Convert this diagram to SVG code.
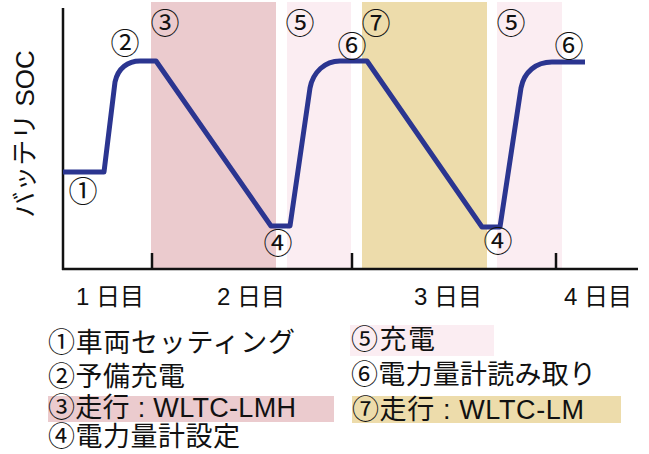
<svg xmlns="http://www.w3.org/2000/svg" width="649" height="454" viewBox="0 0 649 454">
<style>
.t{font-family:"Liberation Sans","Noto Sans CJK JP",sans-serif;fill:#111}
.lg{font-size:27px}
.day{font-size:24px}
.num{font-family:"Noto Sans CJK JP",sans-serif;font-size:29px;fill:#111}
.ax{stroke:#111;stroke-width:2.5;fill:none}
.soc{fill:none;stroke:#2b3590;stroke-width:5;stroke-linejoin:round}
</style>
<rect width="649" height="454" fill="#fff"/>
<g id="bands">
<rect x="151" y="2" width="125" height="267" fill="#ebcbce"/>
<rect x="287" y="2" width="64" height="267" fill="#fbedf2"/>
<rect x="362" y="2" width="125" height="267" fill="#eddcab"/>
<rect x="497" y="2" width="65" height="267" fill="#fbedf2"/>
</g>
<g id="axes">
<line class="ax" x1="63" y1="8" x2="63" y2="270"/>
<line class="ax" x1="62" y1="269" x2="638" y2="269"/>
<line class="ax" x1="152" y1="253" x2="152" y2="269"/>
<line class="ax" x1="352" y1="253" x2="352" y2="269"/>
<line class="ax" x1="556" y1="253" x2="556" y2="269"/>
</g>
<g id="ylabel">
<text class="t" font-size="26" transform="translate(34,134) rotate(-90)" text-anchor="middle">バッテリ SOC</text>
</g>
<g id="connectors">
<path class="soc" d="M63,172 H104 L115,82 C118,68 128,61 140,61 H156 L271,226 H290 L310,88 C313,72 325,61 340,61 H367 L482,227 H500 L521,88 C524,72 536,62 552,62 H585"/>
</g>
<g id="markers" text-anchor="middle">
<text class="num" x="83" y="202">①</text>
<text class="num" x="125" y="54">②</text>
<text class="num" x="165" y="34">③</text>
<text class="num" x="300" y="34">⑤</text>
<text class="num" x="278" y="254">④</text>
<text class="num" x="352" y="57">⑥</text>
<text class="num" x="376" y="34">⑦</text>
<text class="num" x="511" y="34">⑤</text>
<text class="num" x="498" y="252">④</text>
<text class="num" x="569" y="57">⑥</text>
</g>
<g id="days" text-anchor="middle">
<text class="t day" x="110" y="305">1 日目</text>
<text class="t day" x="251" y="305">2 日目</text>
<text class="t day" x="448" y="305">3 日目</text>
<text class="t day" x="598" y="305">4 日目</text>
</g>
<g id="legend">
<rect x="48" y="396" width="286" height="26" fill="#ebcbce"/>
<rect x="350" y="325" width="144" height="31" fill="#fbedf2"/>
<rect x="352" y="396" width="269" height="27" fill="#eddcab"/>
<text class="t lg" x="48" y="352" textLength="247">①車両セッティング</text>
<text class="t lg" x="48" y="386" textLength="137">②予備充電</text>
<text class="t lg" x="48" y="417" textLength="248">③走行 : WLTC-LMH</text>
<text class="t lg" x="48" y="446" textLength="192">④電力量計設定</text>
<text class="t lg" x="351" y="349" textLength="84">⑤充電</text>
<text class="t lg" x="351" y="384" textLength="245">⑥電力量計読み取り</text>
<text class="t lg" x="352" y="419" textLength="232">⑦走行 : WLTC-LM</text>
</g>
</svg>
